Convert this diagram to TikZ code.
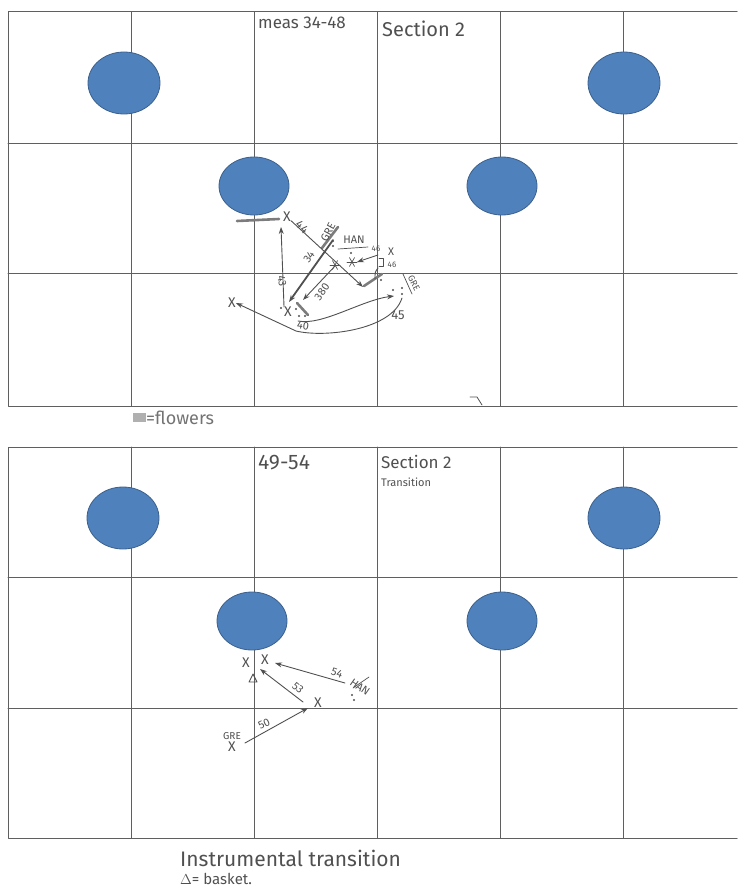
\documentclass[tikz,border=0pt]{standalone}
\usepackage{fontspec}
\setmainfont{Fira Sans}
\usetikzlibrary{arrows.meta}
\definecolor{dotblue}{RGB}{79,129,189}
\definecolor{dotedge}{RGB}{60,96,140}
\definecolor{pencil}{RGB}{80,80,80}
\definecolor{gridgray}{RGB}{95,95,95}

\begin{document}
\begin{tikzpicture}[x=1pt, y=-1pt, line cap=round, line join=round,
  gridline/.style={draw=gridgray, line width=1pt},
  spot/.style={fill=dotblue, draw=dotedge, line width=0.8pt},
  pen/.style={draw=pencil, line width=0.9pt},
  penarrow/.style={pen, -{Stealth[length=7pt,width=5pt]}},
  flower/.style={draw=pencil!75, line width=2.6pt},
  hand/.style={text=pencil, inner sep=0pt, font=\fontsize{11}{12}\selectfont},
  title/.style={text=pencil, inner sep=0pt, anchor=west},
  cross/.style={text=pencil, inner sep=0pt, font=\fontsize{14}{14}\selectfont}]

  %% ════ 格子（上、下两张）════
  \foreach \top/\bot/\ra/\rb in {12/406/143/273, 447/838/577/708} {
    \draw[gridline] (737,\top) -- (8,\top) -- (8,\bot) -- (737,\bot);
    \foreach \cx in {131,254,377,500,623}
      \draw[gridline] (\cx,\top) -- (\cx,\bot);
    \draw[gridline] (8,\ra) -- (737,\ra);
    \draw[gridline] (8,\rb) -- (737,\rb);
  }

  %% ════ 蓝色圆点 ════
  \foreach \cx/\cy/\rx/\ry in {124/83/36/31, 624/83/36/31, 254/186/35/29, 502/186/35/29,
                               123/518/36/31, 624/518/36/31, 252/621/35/29, 502/621/35/29}
    \path[spot] (\cx,\cy) ellipse [x radius=\rx, y radius=\ry];

  %% ════ 标题文字 ════
  \node[title, font=\fontsize{17}{19}\selectfont] (meas) at (258,23) {meas 34-48};
  \node[title, font=\fontsize{20}{22}\selectfont] (sect) at (382,29) {Section 2};
  \node[title, font=\fontsize{21}{23}\selectfont] (bars) at (258,463) {49-54};
  \node[title, font=\fontsize{17}{19}\selectfont] (sectb) at (381,462) {Section 2};
  \node[title, font=\fontsize{11}{12}\selectfont] (trans) at (381,482) {Transition};

  %% ════ 上图：站位与走位 ════
  \node[cross] (xtop) at (287,217) {X};
  \node[cross] (xmid) at (288,312) {X};
  \node[cross] (xleft) at (232,303) {X};
  \node[cross, font=\fontsize{11}{11}\selectfont] (xright) at (391,252) {X};
  \coordinate (t44) at (363,287);
  \coordinate (h43) at (281,227);
  \coordinate (s34) at (333,240);
  \coordinate (h34) at (289,302);
  \coordinate (s38) at (335,266);
  \coordinate (h38) at (303,300);
  \coordinate (s46) at (378,255);
  \coordinate (h46) at (357,262);
  \coordinate (s40) at (298,321);
  \coordinate (h40) at (394,296);
  \coordinate (s45) at (402,298);
  \coordinate (bend) at (296,331);

  % flowers
  \draw[flower] (237,221) -- (279,219);
  \draw[flower] (322,248) -- (338,227);
  \draw[flower] (297,303) -- (308,315);
  \draw[flower] (364,286) -- (382,274);

  \draw[penarrow] (xtop) -- (t44);
  \draw[penarrow] (xmid.north west) -- (h43);
  \draw[penarrow, line width=1.8pt] (s34) -- (h34);
  \draw[penarrow] (s38) -- (h38);
  \draw[penarrow] (s46) -- (h46);
  \draw[penarrow] (s40) .. controls (322,326) and (362,300) .. (h40);
  \draw[penarrow] (s45) .. controls (392,330) and (325,338) .. (bend) -- (xleft.east);

  % 星号
  \foreach \sx/\sy in {352/262, 335/265}
    \foreach \ang in {0,60,120}
      \draw[pen, line width=0.7pt] (\sx,\sy) ++(\ang:5) -- ++(\ang+180:10);

  % 括号与小线
  \draw[pen] (379,258) -- (383,258) -- (383,266) -- (379,266);
  \draw[pen] (378,268) .. controls (375,272) .. (375,279);
  \draw[pen, line width=0.7pt] (338,249) -- (368,247);
  \draw[pen, line width=0.7pt] (403,274) -- (412,294);
  \draw[pen, line width=0.8pt] (470,397) -- (477,397) -- (482,405);

  % 点
  \foreach \px/\py in {333/241, 333/246, 351/253, 381/280, 393/290, 402/288, 402/294,
                       281/308, 296/309, 299/316, 305/316}
    \fill[pencil] (\px,\py) circle (1.1);

  % 标签
  \node[hand, rotate=-42, font=\fontsize{12}{13}\selectfont] (l44) at (302,227) {44};
  \node[hand, rotate=62] (lgre) at (328,232) {GRE};
  \node[hand] (lhan) at (354,240) {HAN};
  \node[hand, rotate=-80] (l43) at (282,281) {43};
  \node[hand, rotate=55] (l34) at (309,257) {34};
  \node[hand, rotate=55] (l38) at (322,292) {380};
  \node[hand, font=\fontsize{8}{9}\selectfont] (l46a) at (376,249) {46};
  \node[hand, font=\fontsize{8}{9}\selectfont] (l46b) at (392,265) {46};
  \node[hand, rotate=-62, font=\fontsize{9}{10}\selectfont] (lgreb) at (414,283) {GRE};
  \node[hand, rotate=-8] (l40) at (303,326) {40};
  \node[hand, font=\fontsize{13}{14}\selectfont] (l45) at (398,315) {45};

  % 图例
  \fill[pencil!45] (133,413) rectangle (146,422);
  \node[title, font=\fontsize{18}{20}\selectfont, text=pencil!80] (legend) at (146,418) {=flowers};

  %% ════ 下图：过渡 ════
  \node[cross] (xa) at (246,663) {X};
  \node[cross] (xb) at (265,660) {X};
  \node[cross] (xc) at (318,703) {X};
  \node[cross] (xd) at (232,747) {X};
  \draw[pen] (249,682) -- (253,674) -- (257,682) -- cycle;
  \coordinate (s54) at (345,683);
  \coordinate (h54) at (275,663);
  \coordinate (s53) at (303,702);
  \coordinate (h53) at (260,669);
  \coordinate (s50) at (245,743);
  \coordinate (h50) at (308,708);
  \draw[penarrow] (s54) -- (h54);
  \draw[penarrow] (s53) -- (h53);
  \draw[penarrow] (s50) -- (h50);
  \node[hand, rotate=-20] (l54) at (337,673) {54};
  \node[hand, rotate=-35] (lhanb) at (360,687) {HAN};
  \draw[pen, line width=0.7pt] (353,688) -- (369,677);
  \fill[pencil] (352,695) circle (1.1);
  \fill[pencil] (354,700) circle (1.1);
  \node[hand, rotate=-40] (l53) at (298,688) {53};
  \node[hand, rotate=25] (l50) at (264,724) {50};
  \node[hand, font=\fontsize{10}{11}\selectfont] (lgrec) at (232,736) {GRE};

  %% ════ 底部说明 ════
  \node[title, font=\fontsize{21}{23}\selectfont] (instr) at (180,858) {Instrumental transition};
  \node[title, font=\fontsize{15}{17}\selectfont] (basket) at (180,879) {$\Delta$= basket.};

  \pgfresetboundingbox
  \path[use as bounding box] (0,0) rectangle (737,888);
\end{tikzpicture}
\end{document}
